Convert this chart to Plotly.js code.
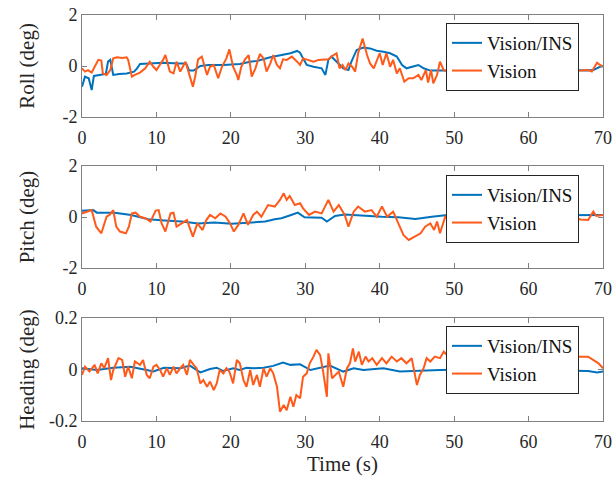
<!DOCTYPE html>
<html>
<head>
<meta charset="utf-8">
<script src="https://cdn.plot.ly/plotly-3.0.1.min.js"></script>
<style>
  html, body { margin: 0; padding: 0; background: #fff; }
  #chart { width: 614px; height: 482px; }
</style>
</head>
<body>
<div id="chart"></div>
<script>
// Attitude comparison: Vision/INS vs. Vision-only estimates (degrees)

const seriesNames = ['Vision/INS', 'Vision'];
const timeTicks = [0, 10, 20, 30, 40, 50, 60, 70];
const rollTicks = [-2, 0, 2];
const rollTickText = ['-2', '0', '2'];
const pitchTicks = [-2, 0, 2];
const pitchTickText = ['-2', '0', '2'];
const headingTicks = [-0.2, 0, 0.2];
const headingTickText = ['-0.2', '0', '0.2'];

// Roll
const rollInsT = [0, 0.4, 0.9, 1.3, 1.6, 2.5, 3.2, 3.5, 3.8, 4.2, 5, 6, 7, 7.4, 7.8, 9, 11, 13, 14, 14.4, 15, 15.9, 17, 19, 21.2, 22.6, 23.5, 25.3, 27, 28, 28.9, 29.3, 29.7, 30.2, 31.1, 32.2, 32.7, 33.1, 33.5, 34.2, 35.1, 35.8, 36.2, 36.9, 37.8, 38.7, 39.6, 40.5, 41.4, 42.3, 43, 43.6, 44.5, 45.2, 45.9, 46.8, 48.8, 52, 56, 60, 64, 67.8, 68.7, 69.6, 70];
const rollIns = [-0.81, -0.42, -0.48, -0.94, -0.39, -0.35, -0.31, 0.17, 0.24, -0.35, -0.31, -0.29, -0.22, -0.09, 0.08, 0.1, 0.13, 0.1, 0.1, -0.18, -0.18, 0, 0.04, 0.04, 0.08, 0.17, 0.2, 0.34, 0.43, 0.5, 0.59, 0.52, 0.3, 0.04, -0.03, -0.09, -0.35, 0.24, 0.37, 0.17, -0.09, -0.16, 0.17, 0.63, 0.72, 0.69, 0.6, 0.56, 0.5, 0.37, 0.04, -0.09, -0.03, 0.04, -0.09, -0.18, -0.18, -0.15, -0.12, -0.16, -0.14, -0.18, -0.16, -0.03, 0.0];
const rollVisT = [0, 0.4, 0.8, 1.3, 1.7, 2.2, 2.6, 2.8, 3.3, 3.8, 4.2, 4.7, 5.4, 6, 6.2, 6.7, 7.1, 7.8, 8.5, 9.1, 9.6, 10, 10.9, 11.2, 11.8, 12.3, 12.7, 13.2, 13.9, 14.3, 14.9, 15.2, 15.6, 16.1, 16.8, 17.2, 17.7, 18.3, 18.8, 19.4, 19.8, 20.3, 20.8, 21, 21.4, 21.9, 22.4, 22.8, 23.3, 23.9, 24.4, 24.8, 25.3, 25.7, 26.2, 26.6, 27, 27.5, 28.2, 28.9, 29.3, 29.7, 30.4, 31.1, 31.8, 32.4, 33.1, 33.8, 34.2, 34.6, 35, 35.4, 35.8, 36.3, 36.7, 37.1, 37.7, 38.3, 38.7, 39.2, 39.6, 40, 40.4, 40.9, 41.4, 41.8, 42.3, 42.7, 43.3, 43.9, 44.5, 45.2, 45.6, 46.2, 46.5, 46.9, 47.2, 47.7, 48.1, 48.6, 50, 52, 54, 56, 58, 60, 62, 64, 66, 68, 68.5, 69.2, 69.6, 70];
const rollVis = [-0.09, -0.22, -0.16, -0.26, -0.03, 0.24, 0.21, -0.29, -0.35, -0.16, 0.3, 0.34, 0.31, 0.34, 0.24, -0.42, -0.35, -0.26, -0.09, 0.17, -0.03, -0.16, 0.24, 0.43, -0.22, -0.29, 0.17, -0.22, 0.17, -0.22, -0.81, -0.42, 0.26, 0.37, -0.35, -0.03, 0.04, -0.48, -0.03, 0.3, 0.65, -0.03, -0.35, -0.55, -0.03, 0.26, 0.43, -0.42, -0.09, 0.47, 0.3, -0.22, 0.1, 0.43, 0.04, -0.09, 0.26, 0.24, 0.37, 0.17, 0.04, 0.3, 0.24, 0.17, 0.24, 0.24, 0.26, 0.43, 0.5, -0.09, 0.04, -0.16, 0.1, -0.03, -0.22, 0.5, 1.08, 0.43, 0.1, -0.09, 0.17, 0.5, 0.04, 0.5, -0.03, 0.24, -0.29, -0.09, -0.61, -0.48, -0.48, -0.35, -0.55, -0.16, -0.65, -0.16, -0.68, -0.35, 0.17, -0.16, -0.3, 0.1, -0.25, 0.05, -0.2, 0.15, -0.1, 0.05, -0.2, -0.16, -0.22, 0.13, 0.04, -0.03];

// Pitch
const pitchInsT = [0, 1.5, 2, 4.4, 6.6, 8.9, 11.1, 13.4, 15.6, 17.8, 20.1, 22.3, 24.6, 25.9, 26.8, 28.1, 29, 29.9, 31.3, 32.2, 32.9, 34, 35.3, 38, 40.3, 42.5, 44.8, 47, 48.8, 52, 56, 60, 64, 68, 70];
const pitchIns = [0.25, 0.27, 0.17, 0.17, 0.08, -0.09, -0.14, -0.18, -0.25, -0.22, -0.26, -0.21, -0.18, -0.09, -0.05, 0.08, 0.17, -0.01, -0.03, -0.03, -0.18, 0.04, 0.1, 0.04, 0.01, -0.01, -0.08, 0.01, 0.07, 0.05, 0.06, 0.05, 0.07, 0.08, 0.08];
const pitchVisT = [0, 0.6, 1.3, 1.9, 2.6, 3.3, 3.7, 4.2, 4.6, 5.1, 5.9, 6.3, 6.7, 7.2, 7.8, 8.5, 9.2, 9.9, 10.3, 10.7, 11.2, 11.9, 12.3, 12.7, 13.4, 14.1, 14.9, 15.5, 16.2, 16.7, 17.2, 17.9, 18.6, 19.3, 19.9, 20.4, 21, 21.7, 22.3, 23, 23.5, 24.1, 24.6, 25, 25.9, 26.6, 27.1, 27.5, 27.9, 28.6, 29.3, 29.7, 30.5, 31.3, 32.2, 33.1, 33.8, 34.5, 35.3, 35.8, 36.5, 37.1, 38, 38.9, 39.6, 40.3, 41, 41.8, 42.5, 43.2, 43.9, 44.8, 45.5, 46.1, 46.8, 47.3, 47.7, 48.1, 48.8, 50, 52, 54, 55, 55.3, 55.6, 57, 59, 61, 63, 65, 67, 68, 68.7, 69.1, 70];
const pitchVis = [0.14, 0.21, 0.27, -0.38, -0.64, 0.01, 0.08, 0.27, -0.38, -0.57, -0.64, -0.38, 0.14, 0.17, 0.01, -0.05, -0.18, 0.25, 0.27, -0.25, -0.57, 0.14, 0.17, -0.38, -0.25, -0.12, -0.77, -0.25, -0.51, -0.12, 0.08, -0.05, 0.14, 0.01, -0.25, -0.57, -0.31, 0.14, -0.31, 0.08, 0.21, 0.01, 0.27, 0.47, 0.41, 0.67, 0.93, 0.67, 0.82, 0.47, 0.54, 0.34, 0.08, 0.21, 0.14, 0.67, 0.21, 0.47, 0.08, -0.38, 0.21, 0.41, 0.21, 0.27, 0.01, 0.41, 0.01, 0.21, -0.25, -0.71, -0.9, -0.77, -0.64, -0.38, -0.25, -0.51, -0.18, -0.64, 0.01, -0.2, 0.1, -0.3, -0.2, -0.86, -0.3, 0.05, -0.15, 0.1, -0.1, 0.05, -0.1, -0.12, 0.21, 0.04, 0.08];

// Heading
const headingInsT = [0, 2, 4.2, 6.5, 8.7, 9.6, 11, 13.2, 14.5, 15.9, 17.2, 18.1, 19, 20.3, 21.2, 22.1, 23, 24.4, 25.7, 27, 28, 29.3, 30.7, 32, 33.3, 35.1, 36.5, 37.8, 40.5, 42.7, 44.5, 46.3, 48.1, 52, 56, 60, 64, 68, 69.2, 70];
const headingIns = [0.005, -0.002, 0.007, 0.011, -0.002, -0.008, 0.007, 0.005, 0.015, -0.011, 0.002, 0.007, -0.006, 0.005, -0.002, 0.007, 0.005, 0.007, 0.014, 0.027, 0.018, 0.02, -0.002, 0.005, 0.015, -0.008, 0.005, -0.002, 0.005, -0.008, -0.006, -0.002, -0.002, 0.0, -0.003, 0.002, -0.004, -0.006, -0.012, -0.008];
const headingVisT = [0, 0.4, 1, 1.7, 2.1, 2.6, 3, 3.5, 3.9, 4.2, 4.9, 5.4, 5.8, 6.2, 6.7, 7.1, 7.8, 8.2, 8.7, 9.1, 9.6, 10, 10.5, 10.9, 11.4, 11.8, 12.3, 12.7, 13.2, 13.6, 14.1, 14.5, 15, 15.4, 15.9, 16.3, 16.8, 17.2, 17.7, 18.1, 18.5, 19, 19.4, 19.8, 20.3, 20.8, 21.2, 21.7, 22.1, 22.6, 23, 23.5, 23.9, 24.4, 24.8, 25.3, 25.7, 26.2, 26.6, 27.1, 27.5, 28, 28.4, 28.8, 29.3, 29.7, 30.2, 30.6, 31.1, 31.5, 32, 32.4, 32.9, 33.1, 33.6, 34, 34.5, 35.1, 35.6, 36, 36.4, 36.7, 37.2, 37.6, 38.1, 38.5, 39, 39.6, 40.3, 40.9, 41.6, 42.3, 42.9, 43.6, 44.3, 45, 45.4, 45.9, 46.3, 46.8, 47.4, 48.1, 48.6, 50, 52, 54, 56, 58, 60, 62, 64, 66, 68, 68.7, 69.4, 70];
const headingVis = [-0.021, 0.011, -0.008, 0.018, -0.015, 0.024, 0.005, 0.044, -0.041, -0.002, 0.044, 0.037, -0.028, 0.011, -0.034, 0.031, 0.018, 0.037, -0.021, -0.034, 0.011, 0.018, -0.002, -0.028, 0.005, -0.021, 0.011, -0.015, 0.005, 0.018, -0.021, 0.037, 0.018, 0.005, -0.054, -0.041, -0.067, -0.047, -0.08, -0.054, -0.002, -0.015, 0.005, -0.008, -0.054, 0.037, 0.024, -0.041, -0.067, -0.002, -0.06, -0.021, -0.067, 0.005, -0.028, 0.005, -0.015, -0.067, -0.164, -0.138, -0.158, -0.106, -0.145, -0.099, -0.112, -0.028, -0.015, 0.024, 0.05, 0.076, 0.056, -0.008, -0.106, 0.063, -0.034, -0.021, -0.008, -0.067, 0.005, 0.024, 0.082, 0.031, 0.069, 0.018, 0.05, 0.031, 0.044, 0.018, 0.044, 0.024, 0.05, 0.031, 0.044, 0.024, 0.044, -0.06, -0.021, 0.005, 0.044, 0.031, 0.05, 0.044, 0.069, 0.03, 0.05, 0.02, 0.04, 0.03, 0.05, 0.03, 0.04, 0.05, 0.05, 0.037, 0.024, 0.005];

const colorIns = '#0072BD';
const colorVis = '#FF5A1A';
const serif = 'Liberation Serif, Times New Roman, serif';

function line(x, y, name, color, axisSuffix, legendId) {
  return {
    type: 'scatter', mode: 'lines', x: x, y: y, name: name,
    line: { color: color, width: 2 },
    xaxis: 'x' + axisSuffix, yaxis: 'y' + axisSuffix,
    legend: legendId, hoverinfo: 'skip'
  };
}

const traces = [
  line(rollInsT, rollIns, seriesNames[0], colorIns, '', 'legend'),
  line(rollVisT, rollVis, seriesNames[1], colorVis, '', 'legend'),
  line(pitchInsT, pitchIns, seriesNames[0], colorIns, '2', 'legend2'),
  line(pitchVisT, pitchVis, seriesNames[1], colorVis, '2', 'legend2'),
  line(headingInsT, headingIns, seriesNames[0], colorIns, '3', 'legend3'),
  line(headingVisT, headingVis, seriesNames[1], colorVis, '3', 'legend3')
];

const W = 614, H = 482;
const xDomain = [82 / W, 603 / W];
const frame = { top: [15, 166, 318], bottom: [117, 268, 421] };
function yDomain(i) { return [(H - frame.bottom[i]) / H, (H - frame.top[i]) / H]; }

const tickFont = { family: serif, size: 18, color: '#262626' };
const titleFont = { family: serif, size: 21, color: '#262626' };
const axisBase = {
  showline: true, mirror: 'ticks', linecolor: '#808080', linewidth: 1,
  ticks: 'inside', ticklen: 5, tickcolor: '#808080', tickwidth: 1,
  showgrid: false, zeroline: false, tickfont: tickFont, automargin: false
};

function xAxis(anchor, withTitle) {
  const a = Object.assign({}, axisBase, {
    domain: xDomain, anchor: anchor, range: [0, 70],
    tickmode: 'array', tickvals: timeTicks, ticktext: timeTicks.map(String),
    ticklabelstandoff: 4
  });
  if (withTitle) a.title = { text: 'Time (s)', font: titleFont, standoff: 4 };
  return a;
}
function yAxis(anchor, i, range, vals, text, title, standoff) {
  return Object.assign({}, axisBase, {
    domain: yDomain(i), anchor: anchor, range: range,
    tickmode: 'array', tickvals: vals, ticktext: text,
    title: { text: title, font: titleFont, standoff: standoff }
  });
}

function legendAt(topPx) {
  return {
    x: 446 / W, y: (H - topPx) / H, xanchor: 'left', yanchor: 'top',
    bgcolor: '#ffffff', bordercolor: '#262626', borderwidth: 1,
    font: { family: serif, size: 19, color: '#111111' },
    tracegroupgap: 0
  };
}

const layout = {
  width: W, height: H,
  margin: { l: 0, r: 0, t: 0, b: 0 },
  paper_bgcolor: '#ffffff', plot_bgcolor: '#ffffff',
  showlegend: true,
  xaxis: xAxis('y', false),
  xaxis2: xAxis('y2', false),
  xaxis3: xAxis('y3', true),
  yaxis: yAxis('x', 0, [-2, 2], rollTicks, rollTickText, 'Roll (deg)', 22),
  yaxis2: yAxis('x2', 1, [-2, 2], pitchTicks, pitchTickText, 'Pitch (deg)', 22),
  yaxis3: yAxis('x3', 2, [-0.2, 0.2], headingTicks, headingTickText, 'Heading (deg)', 8),
  legend: legendAt(23),
  legend2: legendAt(175),
  legend3: legendAt(326)
};

Plotly.newPlot('chart', traces, layout, { staticPlot: true, displayModeBar: false });
</script>
</body>
</html>
